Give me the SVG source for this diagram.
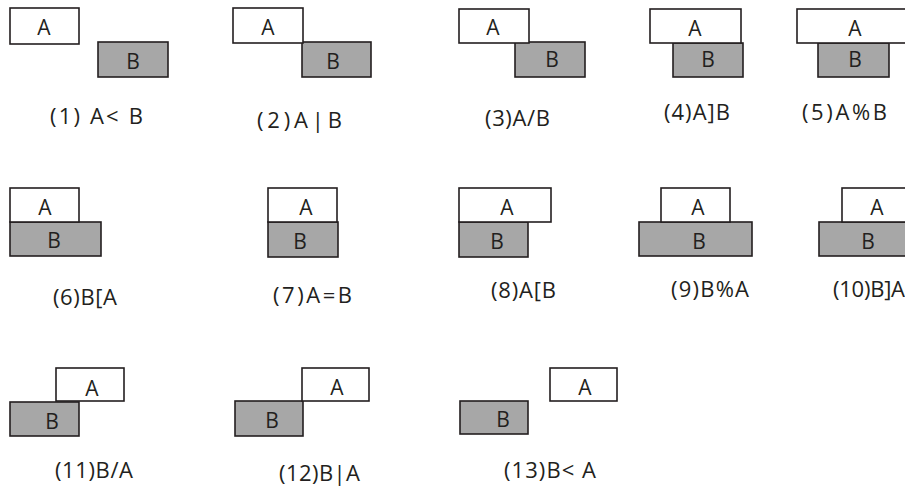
<svg xmlns="http://www.w3.org/2000/svg" width="905" height="487" viewBox="0 0 905 487">
<style>
  .a { fill: #ffffff; stroke: #231f20; stroke-width: 1.6; }
  .b { fill: #a7a7a7; stroke: #231f20; stroke-width: 1.6; }
  text { font-family: "Open Sans", "Noto Sans", "Liberation Sans", sans-serif; fill: #231f20; }
  .t { font-size: 21px; text-anchor: middle; }
  .l { font-size: 22px; }
</style>
<rect width="905" height="487" fill="#ffffff"/>
<g id="case1">
  <rect class="a" x="10" y="8" width="69" height="36"/>
  <rect class="b" x="98" y="42" width="70" height="35"/>
  <text class="t" x="44" y="35">A</text>
  <text class="t" x="133" y="69">B</text>
  <text class="l" x="50" y="124" textLength="93" lengthAdjust="spacing">(1) A&lt; B</text>
</g>
<g id="case2">
  <rect class="b" x="302" y="42" width="69" height="35"/>
  <rect class="a" x="233" y="8" width="70" height="35"/>
  <text class="t" x="268" y="35">A</text>
  <text class="t" x="333" y="69">B</text>
  <text class="l" x="257" y="128" textLength="85" lengthAdjust="spacing">(2)A|B</text>
</g>
<g id="case3">
  <rect class="b" x="515" y="42" width="70" height="35"/>
  <rect class="a" x="459" y="9" width="70" height="34"/>
  <text class="t" x="493" y="35">A</text>
  <text class="t" x="552" y="67">B</text>
  <text class="l" x="485" y="126" textLength="65" lengthAdjust="spacing">(3)A/B</text>
</g>
<g id="case4">
  <rect class="b" x="673" y="43" width="70" height="34"/>
  <rect class="a" x="650" y="9" width="91" height="34"/>
  <text class="t" x="695" y="36">A</text>
  <text class="t" x="708" y="67">B</text>
  <text class="l" x="664" y="120" textLength="66" lengthAdjust="spacing">(4)A]B</text>
</g>
<g id="case5">
  <rect class="b" x="818" y="43" width="71" height="34"/>
  <rect class="a" x="797" y="9" width="112" height="34"/>
  <text class="t" x="855" y="36">A</text>
  <text class="t" x="855" y="67">B</text>
  <text class="l" x="802" y="120" textLength="85" lengthAdjust="spacing">(5)A%B</text>
</g>
<g id="case6">
  <rect class="b" x="10" y="222" width="91" height="34"/>
  <rect class="a" x="10" y="188" width="69" height="34"/>
  <text class="t" x="45" y="215">A</text>
  <text class="t" x="54" y="248">B</text>
  <text class="l" x="53" y="305" textLength="64" lengthAdjust="spacing">(6)B[A</text>
</g>
<g id="case7">
  <rect class="b" x="268" y="222" width="70" height="35"/>
  <rect class="a" x="268" y="188" width="69" height="34"/>
  <text class="t" x="306" y="215">A</text>
  <text class="t" x="300" y="249">B</text>
  <text class="l" x="273" y="303" textLength="79" lengthAdjust="spacing">(7)A=B</text>
</g>
<g id="case8">
  <rect class="b" x="459" y="222" width="69" height="35"/>
  <rect class="a" x="459" y="188" width="92" height="34"/>
  <text class="t" x="507" y="215">A</text>
  <text class="t" x="497" y="249">B</text>
  <text class="l" x="491" y="298" textLength="65" lengthAdjust="spacing">(8)A[B</text>
</g>
<g id="case9">
  <rect class="b" x="639" y="222" width="113" height="34"/>
  <rect class="a" x="661" y="188" width="69" height="34"/>
  <text class="t" x="698" y="215">A</text>
  <text class="t" x="699" y="249">B</text>
  <text class="l" x="671" y="297" textLength="78" lengthAdjust="spacing">(9)B%A</text>
</g>
<g id="case10">
  <rect class="b" x="819" y="222" width="90" height="34"/>
  <rect class="a" x="842" y="188" width="67" height="34"/>
  <text class="t" x="877" y="215">A</text>
  <text class="t" x="868" y="249">B</text>
  <text class="l" x="833" y="297" textLength="72" lengthAdjust="spacing">(10)B]A</text>
</g>
<g id="case11">
  <rect class="b" x="10" y="402" width="69" height="34"/>
  <rect class="a" x="56" y="368" width="68" height="33"/>
  <text class="t" x="92" y="396">A</text>
  <text class="t" x="52" y="429">B</text>
  <text class="l" x="55" y="478" textLength="78" lengthAdjust="spacing">(11)B/A</text>
</g>
<g id="case12">
  <rect class="b" x="235" y="401" width="68" height="35"/>
  <rect class="a" x="302" y="368" width="67" height="33"/>
  <text class="t" x="337" y="395">A</text>
  <text class="t" x="272" y="428">B</text>
  <text class="l" x="279" y="481" textLength="81" lengthAdjust="spacing">(12)B|A</text>
</g>
<g id="case13">
  <rect class="b" x="460" y="401" width="68" height="33"/>
  <rect class="a" x="550" y="368" width="67" height="33"/>
  <text class="t" x="585" y="395">A</text>
  <text class="t" x="503" y="427">B</text>
  <text class="l" x="504" y="478" textLength="92" lengthAdjust="spacing">(13)B&lt; A</text>
</g>
</svg>
